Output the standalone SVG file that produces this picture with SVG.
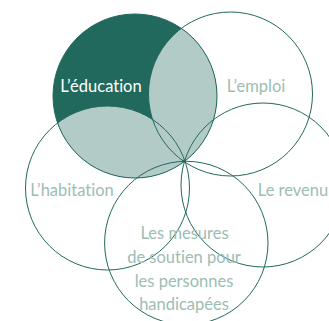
<svg xmlns="http://www.w3.org/2000/svg" width="329" height="321" viewBox="0 0 329 321">
<style>
.c{fill:none;stroke:#22695d;stroke-width:1}
text{font-family:"Lato","Open Sans",sans-serif;font-size:16.5px;text-anchor:middle;fill:#9cbdb4;font-variant-ligatures:none}
.w{fill:#fff}
</style>
<defs>
<clipPath id="edu"><circle cx="135" cy="96" r="82"/></clipPath>
</defs>
<rect width="329" height="321" fill="#fff"/>
<g id="overlaps">
<circle cx="135" cy="96" r="82" fill="#22695d"/>
<g clip-path="url(#edu)" fill="#b2cbc6">
<circle cx="230.5" cy="94" r="82"/>
<circle cx="107.5" cy="188" r="82"/>
</g>
</g>
<g id="connectors"/>
<g id="node-education"><circle class="c" cx="135" cy="96" r="82"/><text class="w" x="101" y="92">L’éducation</text></g>
<g id="node-emploi"><circle class="c" cx="230.5" cy="94" r="82"/><text x="256" y="92">L’emploi</text></g>
<g id="node-habitation"><circle class="c" cx="107.5" cy="188" r="82"/><text x="72" y="196">L’habitation</text></g>
<g id="node-revenu"><circle class="c" cx="263" cy="185" r="82"/><text x="293" y="196">Le revenu</text></g>
<g id="node-mesures"><circle class="c" cx="186.300" cy="243" r="81.700"/>
<text x="184.500" y="239">Les mesures</text><text x="184" y="263">de soutien pour</text><text x="184" y="287">les personnes</text><text x="184" y="310">handicapées</text></g>
<circle cx="184" cy="161" r="1.500" fill="#22695d"/>
</svg>
